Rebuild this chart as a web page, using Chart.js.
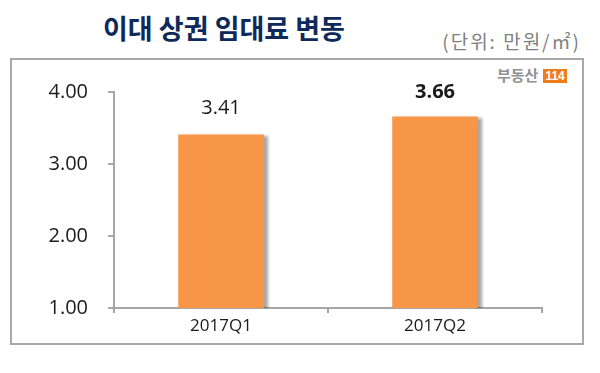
<!DOCTYPE html>
<html>
<head>
<meta charset="utf-8">
<script src="https://cdn.jsdelivr.net/npm/chart.js@4"></script>
<style>
  body { margin:0; background:#fff; }
  #wrap { position:relative; width:600px; height:373px; overflow:hidden; }
  #title { position:absolute; left:0; width:448px; top:14px; text-align:center; font:bold 27px "Noto Sans CJK KR", sans-serif; line-height:1; color:#0e2a5a; }
  #unit { position:absolute; right:19px; top:30px; font:19px "Noto Sans CJK KR", sans-serif; line-height:1.2; color:#808080; letter-spacing:2px; }
  #box { position:absolute; left:10px; top:58px; width:570px; height:283px; border:2px solid #a9a9a9; }
  #logo { position:absolute; left:497px; top:66px; font:bold 15px "Noto Sans CJK KR", sans-serif; line-height:18px; color:#909090; }
  #logo span { display:inline-block; margin-left:5px; background:#f07c1c; color:#fff; font:bold 12px "Liberation Sans", sans-serif; line-height:14px; padding:0 2px; vertical-align:1px; }
  #c { position:absolute; left:0; top:0; }
</style>
</head>
<body>
<div id="wrap">
  <div id="title">이대 상권 임대료 변동</div>
  <div id="unit">(단위: 만원/㎡)</div>
  <div id="box"></div>
  <div id="logo">부동산<span>114</span></div>
  <canvas id="c" width="600" height="373"></canvas>
</div>
<script>
// data
const quarters = ['2017Q1', '2017Q2'];
const rent = [3.41, 3.66];
const yTicks = [1, 2, 3, 4];

const AXIS = '#a6a6a6';

// bar shadow + value labels
const barDeco = {
  id: 'barDeco',
  beforeDatasetsDraw(chart) {
    const ctx = chart.ctx;
    ctx.save();
    ctx.shadowColor = 'rgba(0,0,0,0.35)';
    ctx.shadowOffsetX = 4;
    ctx.shadowOffsetY = 2;
    ctx.shadowBlur = 3;
  },
  afterDatasetsDraw(chart) {
    const ctx = chart.ctx;
    ctx.restore();
    ctx.save();
    ctx.fillStyle = '#1a1a1a';
    ctx.textAlign = 'center';
    ctx.textBaseline = 'middle';
    chart.getDatasetMeta(0).data.forEach((bar, i) => {
      const last = i === rent.length - 1;
      ctx.font = (last ? 'bold ' : '') + '20px "Open Sans", sans-serif';
      ctx.fillText(rent[i].toFixed(2), bar.x, bar.y - (last ? 24 : 26));
    });
    ctx.restore();
  }
};

new Chart(document.getElementById('c'), {
  type: 'bar',
  data: {
    labels: quarters,
    datasets: [{ data: rent, backgroundColor: '#f79646', categoryPercentage: 1, barPercentage: 0.4 }]
  },
  options: {
    responsive: false,
    animation: false,
    layout: { padding: { left: 0, right: 58, top: 92, bottom: 30 } },
    plugins: { legend: { display: false }, tooltip: { enabled: false } },
    scales: {
      x: {
        grid: { drawOnChartArea: false, drawTicks: true, tickLength: 5, color: AXIS, lineWidth: 2 },
        border: { color: AXIS, width: 2 },
        ticks: { color: '#1a1a1a', font: { family: 'Open Sans', size: 17 }, padding: 3 },
        afterFit(s) { s.height = 35; }
      },
      y: {
        min: 1, max: 4,
        grid: { drawOnChartArea: false, drawTicks: true, tickLength: 6, color: AXIS, lineWidth: 2 },
        border: { color: AXIS, width: 2 },
        afterBuildTicks(s) { s.ticks = yTicks.map(v => ({ value: v })); },
        ticks: { color: '#1a1a1a', font: { family: 'Open Sans', size: 20 }, padding: 20, callback: v => v.toFixed(2) },
        afterFit(s) { s.width = 114; }
      }
    }
  },
  plugins: [barDeco]
});
</script>
</body>
</html>
